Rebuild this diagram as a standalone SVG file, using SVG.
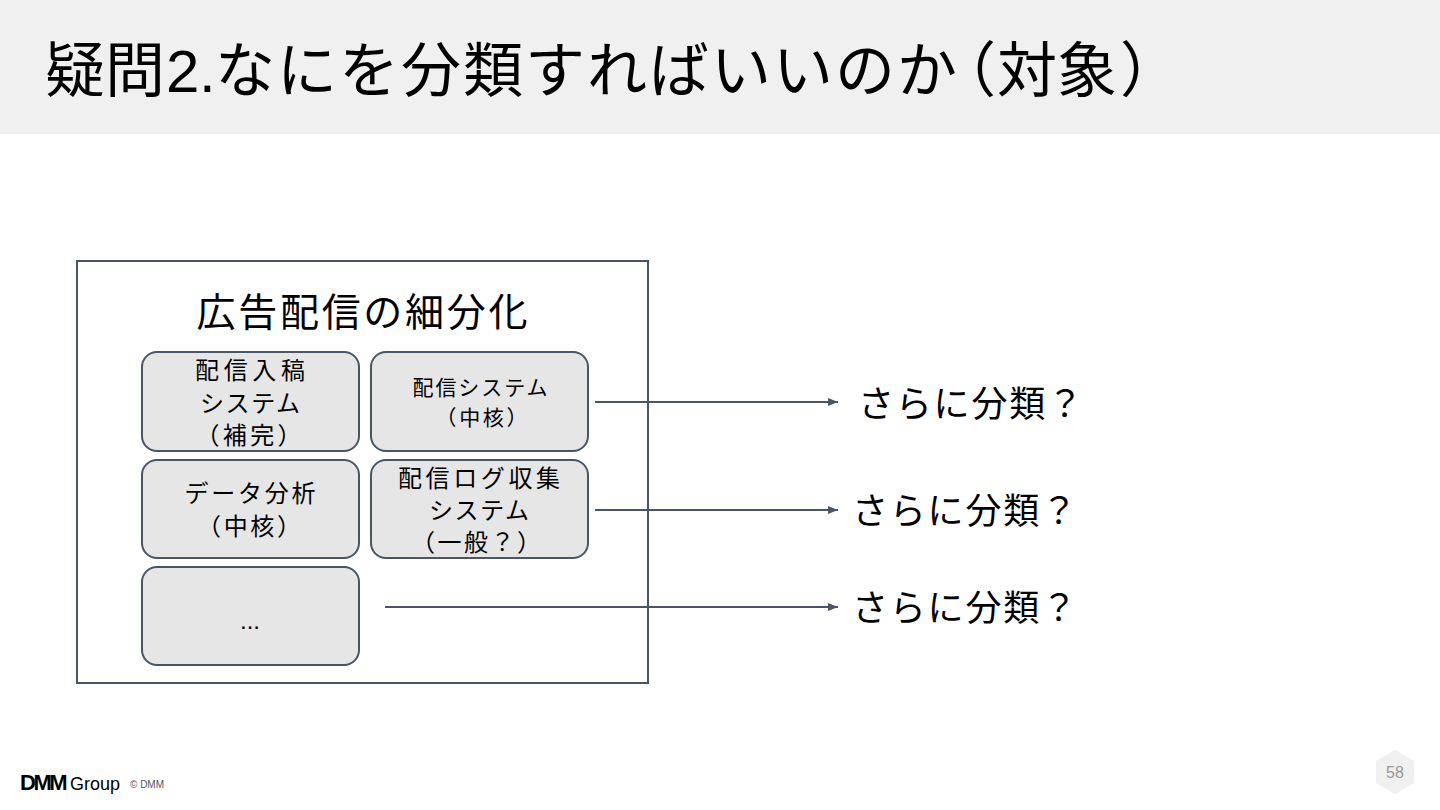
<svg xmlns="http://www.w3.org/2000/svg" width="1440" height="810" viewBox="0 0 1440 810">
<defs>
<style>
.t{font-family:"Liberation Sans","Noto Sans CJK JP",sans-serif;fill:#000}
.box{fill:#e6e6e6;stroke:#4a5565;stroke-width:2}
.c{text-anchor:middle}
.conn{stroke:#4a5565;stroke-width:2;fill:none}
</style>
<marker id="ah" viewBox="0 0 10 10" refX="10" refY="5" markerWidth="5" markerHeight="5" orient="auto" markerUnits="strokeWidth">
<path d="M0,1 L10,5 L0,9 z" fill="#4a5565"/>
</marker>
</defs>
<rect width="1440" height="810" fill="#fff"/>
<rect id="titlebar" x="0" y="0" width="1440" height="134" fill="#f0f0f0"/>
<text class="t" x="45 105 166 199 215 277 339 401 463 525 587 649 711 773 835 897 936 997 1057 1120" y="92" font-size="60">疑問2.なにを分類すればいいのか（対象）</text>

<g id="outer">
<rect x="77" y="261" width="571" height="422" fill="#fff" stroke="#4a5565" stroke-width="2"/>
<text class="t c" x="362" y="326" font-size="39" textLength="331" lengthAdjust="spacing">広告配信の細分化</text>
</g>
<g id="n1">
<rect class="box" x="142" y="352" width="217" height="99" rx="15"/>
<text class="t c" x="250" y="379" font-size="24" textLength="110" lengthAdjust="spacing">配信入稿</text>
<text class="t c" x="250" y="412" font-size="24" textLength="100" lengthAdjust="spacing">システム</text>
<text class="t c" x="248.5" y="444" font-size="24" textLength="106" lengthAdjust="spacing">（補完）</text>
</g>
<g id="n2">
<rect class="box" x="371" y="352" width="217" height="99" rx="15"/>
<text class="t c" x="480" y="395" font-size="21" textLength="135" lengthAdjust="spacing">配信システム</text>
<text class="t c" x="481.5" y="425" font-size="21" textLength="92" lengthAdjust="spacing">（中核）</text>
</g>
<g id="n3">
<rect class="box" x="142" y="460" width="217" height="98" rx="15"/>
<text class="t c" x="250" y="502" font-size="24" textLength="131" lengthAdjust="spacing">データ分析</text>
<text class="t c" x="249" y="535" font-size="24" textLength="104" lengthAdjust="spacing">（中核）</text>
</g>
<g id="n4">
<rect class="box" x="371" y="460" width="217" height="98" rx="15"/>
<text class="t c" x="479" y="487" font-size="24" textLength="162" lengthAdjust="spacing">配信ログ収集</text>
<text class="t c" x="479" y="519" font-size="24" textLength="100" lengthAdjust="spacing">システム</text>
<text class="t c" x="476" y="551" font-size="24" textLength="130" lengthAdjust="spacing">（一般？）</text>
</g>
<g id="n5">
<rect class="box" x="142" y="567" width="217" height="98" rx="15"/>
<text class="t c" x="250" y="629" font-size="24">...</text>
</g>

<g id="connectors">
<line class="conn" x1="595" y1="402" x2="838" y2="402" marker-end="url(#ah)"/>
<line class="conn" x1="595" y1="510" x2="838" y2="510" marker-end="url(#ah)"/>
<line class="conn" x1="385" y1="607" x2="838" y2="607" marker-end="url(#ah)"/>
</g>

<g id="r1"><text class="t" x="858" y="417" font-size="36" textLength="225" lengthAdjust="spacing">さらに分類？</text></g>
<g id="r2"><text class="t" x="852" y="524" font-size="36" textLength="225" lengthAdjust="spacing">さらに分類？</text></g>
<g id="r3"><text class="t" x="852" y="621" font-size="36" textLength="225" lengthAdjust="spacing">さらに分類？</text></g>

<g id="footer">
<text x="20" y="790" font-family="Liberation Sans,sans-serif" font-size="22" font-weight="bold" letter-spacing="-2.5" fill="#000">DMM</text>
<text x="70" y="790" font-family="Liberation Sans,sans-serif" font-size="19" fill="#000" textLength="50" lengthAdjust="spacingAndGlyphs">Group</text>
<text x="130" y="788" font-family="Liberation Sans,sans-serif" font-size="10" fill="#555">© DMM</text>
<polygon points="1395,750 1414,761 1414,783 1395,794 1376,783 1376,761" fill="#f0f0f0"/>
<text x="1395" y="778" text-anchor="middle" font-family="Liberation Sans,sans-serif" font-size="16" fill="#999">58</text>
</g>
</svg>
